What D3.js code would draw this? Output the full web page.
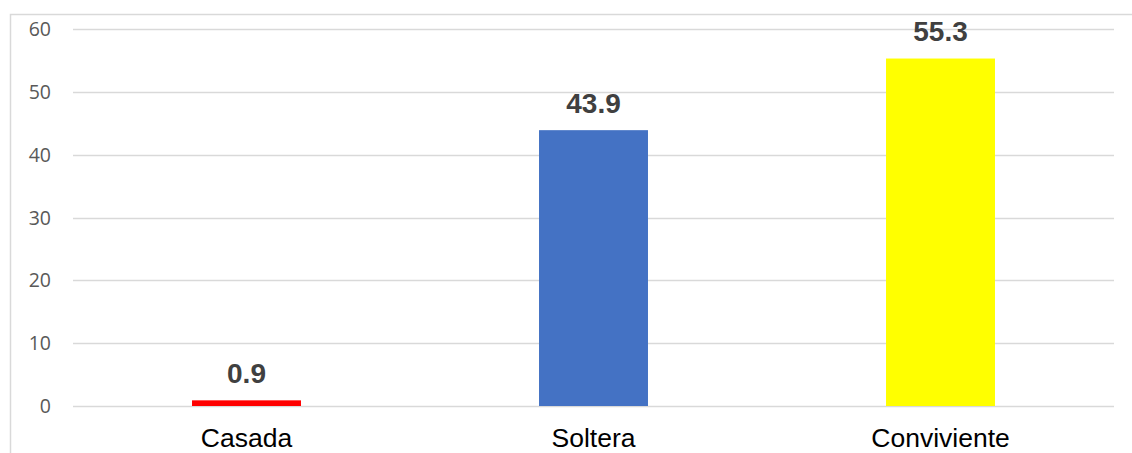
<!DOCTYPE html>
<html><head><meta charset="utf-8">
<script src="https://cdn.jsdelivr.net/npm/d3@7"></script>
<style>body{margin:0;background:#fff}svg{display:block}</style>
</head><body>
<script>
const categories = ["Casada", "Soltera", "Conviviente"];
const values = [0.9, 43.9, 55.3];
const colors = ["#FF0000", "#4472C4", "#FFFF00"];
const yTicks = [0, 10, 20, 30, 40, 50, 60];

(function () {
const W = 1132, H = 453;
const svg = d3.select("body").append("svg").attr("width", W).attr("height", H);

svg.append("rect").attr("x", 10.5).attr("y", 14.5).attr("width", W).attr("height", H)
  .attr("fill", "none").attr("stroke", "#d9d9d9").attr("stroke-width", 1.5);

const mLeft = 73, mRight = 1114, mTop = 29, mBottom = 406;
const x = d3.scaleBand().domain(categories).range([mLeft, mRight]).padding(0);
const y = d3.scaleLinear().domain([0, 60]).range([mBottom, mTop]);
const barW = x.bandwidth() * 0.314;

svg.append("g").selectAll("line").data(yTicks).join("line")
  .attr("x1", mLeft).attr("x2", mRight)
  .attr("y1", d => Math.round(y(d)) + 0.5).attr("y2", d => Math.round(y(d)) + 0.5)
  .attr("stroke", "#d9d9d9").attr("stroke-width", 1.5);

const yAxis = d3.axisLeft(y).tickValues(yTicks).tickSize(0).tickPadding(0);
const ga = svg.append("g").attr("transform", `translate(51,0)`).call(yAxis);
ga.select(".domain").remove();
ga.selectAll("text").attr("font-family", "'Open Sans', sans-serif").attr("font-size", 19.5).attr("fill", "#595959").attr("dy", "0.34em");

svg.append("g").selectAll("rect").data(values).join("rect")
  .attr("x", (d, i) => x(categories[i]) + (x.bandwidth() - barW) / 2)
  .attr("width", barW)
  .attr("y", d => y(d))
  .attr("height", d => y(0) - y(d))
  .attr("fill", (d, i) => colors[i]);

svg.append("g").selectAll("text").data(values).join("text")
  .attr("x", (d, i) => x(categories[i]) + x.bandwidth() / 2)
  .attr("y", d => y(d) - 17.5)
  .attr("text-anchor", "middle")
  .attr("font-family", "'Liberation Sans', Arial, sans-serif")
  .attr("font-weight", "bold").attr("font-size", 28).attr("fill", "#404040")
  .text(d => d.toFixed(1));

const xAxis = d3.axisBottom(x).tickSize(0).tickPadding(0);
const gx = svg.append("g").attr("transform", `translate(0,447)`).call(xAxis);
gx.select(".domain").remove();
gx.selectAll("text").attr("font-family", "'Liberation Sans', Arial, sans-serif").attr("font-size", 26.5).attr("fill", "#000").attr("dy", "0");
})();
</script>
</body></html>
